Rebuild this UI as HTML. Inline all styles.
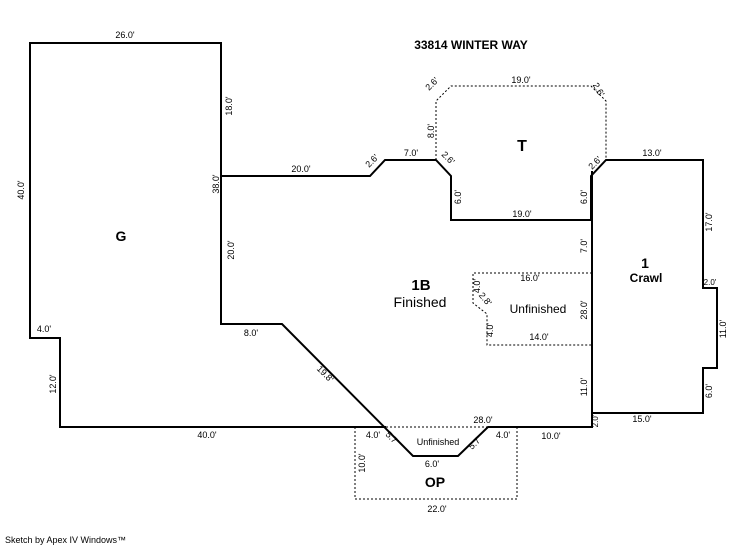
<html><body style="margin:0;background:#fff">
<svg width="746" height="547" xmlns="http://www.w3.org/2000/svg" style="font-family:'Liberation Sans',Arial,sans-serif">
<g fill="none" stroke="#000" stroke-width="2">
<polyline points="386,427 60,427 60,338 30,338 30,43 221,43 221,324 282,324 413,456 458,456 488,427 592,427 592,171"/>
<polyline points="221,176 370,176 385,160 436,160 451,176 451,220 591,220"/>
<polyline points="591,220 591,176 606,160 703,160 703,288 717,288 717,368 703,368 703,413 592,413"/>
</g>
<g fill="none" stroke="#000" stroke-width="1" stroke-dasharray="2,2">
<polyline points="436,160 436,101 451,86 591,86 606,101 606,160"/>
<polyline points="592,273 473,273 473,303 487,314 487,345 592,345"/>
<polyline points="355,427 355,499 517,499 517,427"/>
<line x1="386" y1="427" x2="488" y2="427"/>
</g>
<g font-size="9" fill="#000" text-anchor="middle">
<text x="125" y="38">26.0'</text>
<text x="301" y="172">20.0'</text>
<text x="411" y="156">7.0'</text>
<text x="521" y="83">19.0'</text>
<text x="522" y="217">19.0'</text>
<text x="652" y="156">13.0'</text>
<text x="530" y="281">16.0'</text>
<text x="539" y="340">14.0'</text>
<text x="251" y="336">8.0'</text>
<text x="44" y="332">4.0'</text>
<text x="207" y="438">40.0'</text>
<text x="483" y="423">28.0'</text>
<text x="373" y="438">4.0'</text>
<text x="503" y="438">4.0'</text>
<text x="551" y="439">10.0'</text>
<text x="432" y="467">6.0'</text>
<text x="437" y="512">22.0'</text>
<text x="642" y="422">15.0'</text>
<text x="438" y="445">Unfinished</text>
<text x="710" y="285" font-size="8">2.0'</text>
<g transform="rotate(-90)">
<text x="-190" y="24">40.0'</text>
<text x="-106" y="232">18.0'</text>
<text x="-184" y="219">38.0'</text>
<text x="-250" y="234">20.0'</text>
<text x="-384" y="56">12.0'</text>
<text x="-131" y="434">8.0'</text>
<text x="-197" y="461">6.0'</text>
<text x="-197" y="587">6.0'</text>
<text x="-246" y="587">7.0'</text>
<text x="-310" y="587">28.0'</text>
<text x="-387" y="587">11.0'</text>
<text x="-222" y="712">17.0'</text>
<text x="-329" y="726">11.0'</text>
<text x="-391" y="712">6.0'</text>
<text x="-286" y="480">4.0'</text>
<text x="-330" y="493">4.0'</text>
<text x="-463" y="365">10.0'</text>
<text x="-421" y="598" font-size="8">2.0'</text>
</g>
<text transform="translate(374,163) rotate(-45)">2.6'</text>
<text transform="translate(434,86) rotate(-45)">2.6'</text>
<text transform="translate(596,91) rotate(60)">2.6'</text>
<text transform="translate(446,160) rotate(45)">2.6'</text>
<text transform="translate(597,165) rotate(-45)">2.6'</text>
<text transform="translate(483,301) rotate(50)">2.8'</text>
<text transform="translate(323,376) rotate(45)">19.8'</text>
<text transform="translate(390,440) rotate(45)">5.7'</text>
<text transform="translate(477,445) rotate(-45)">5.7'</text>
</g>
<g fill="#000" text-anchor="middle">
<text x="471" y="49" font-size="12" font-weight="bold">33814 WINTER WAY</text>
<text x="522" y="151" font-size="16" font-weight="bold">T</text>
<text x="121" y="241" font-size="14" font-weight="bold">G</text>
<text x="421" y="290" font-size="15" font-weight="bold">1B</text>
<text x="420" y="307" font-size="14">Finished</text>
<text x="538" y="313" font-size="12">Unfinished</text>
<text x="645" y="268" font-size="14" font-weight="bold">1</text>
<text x="646" y="282" font-size="12" font-weight="bold">Crawl</text>
<text x="435" y="487" font-size="14" font-weight="bold">OP</text>
</g>
<text x="5" y="543" font-size="9" fill="#000">Sketch by Apex IV Windows™</text>
</svg>
</body></html>
